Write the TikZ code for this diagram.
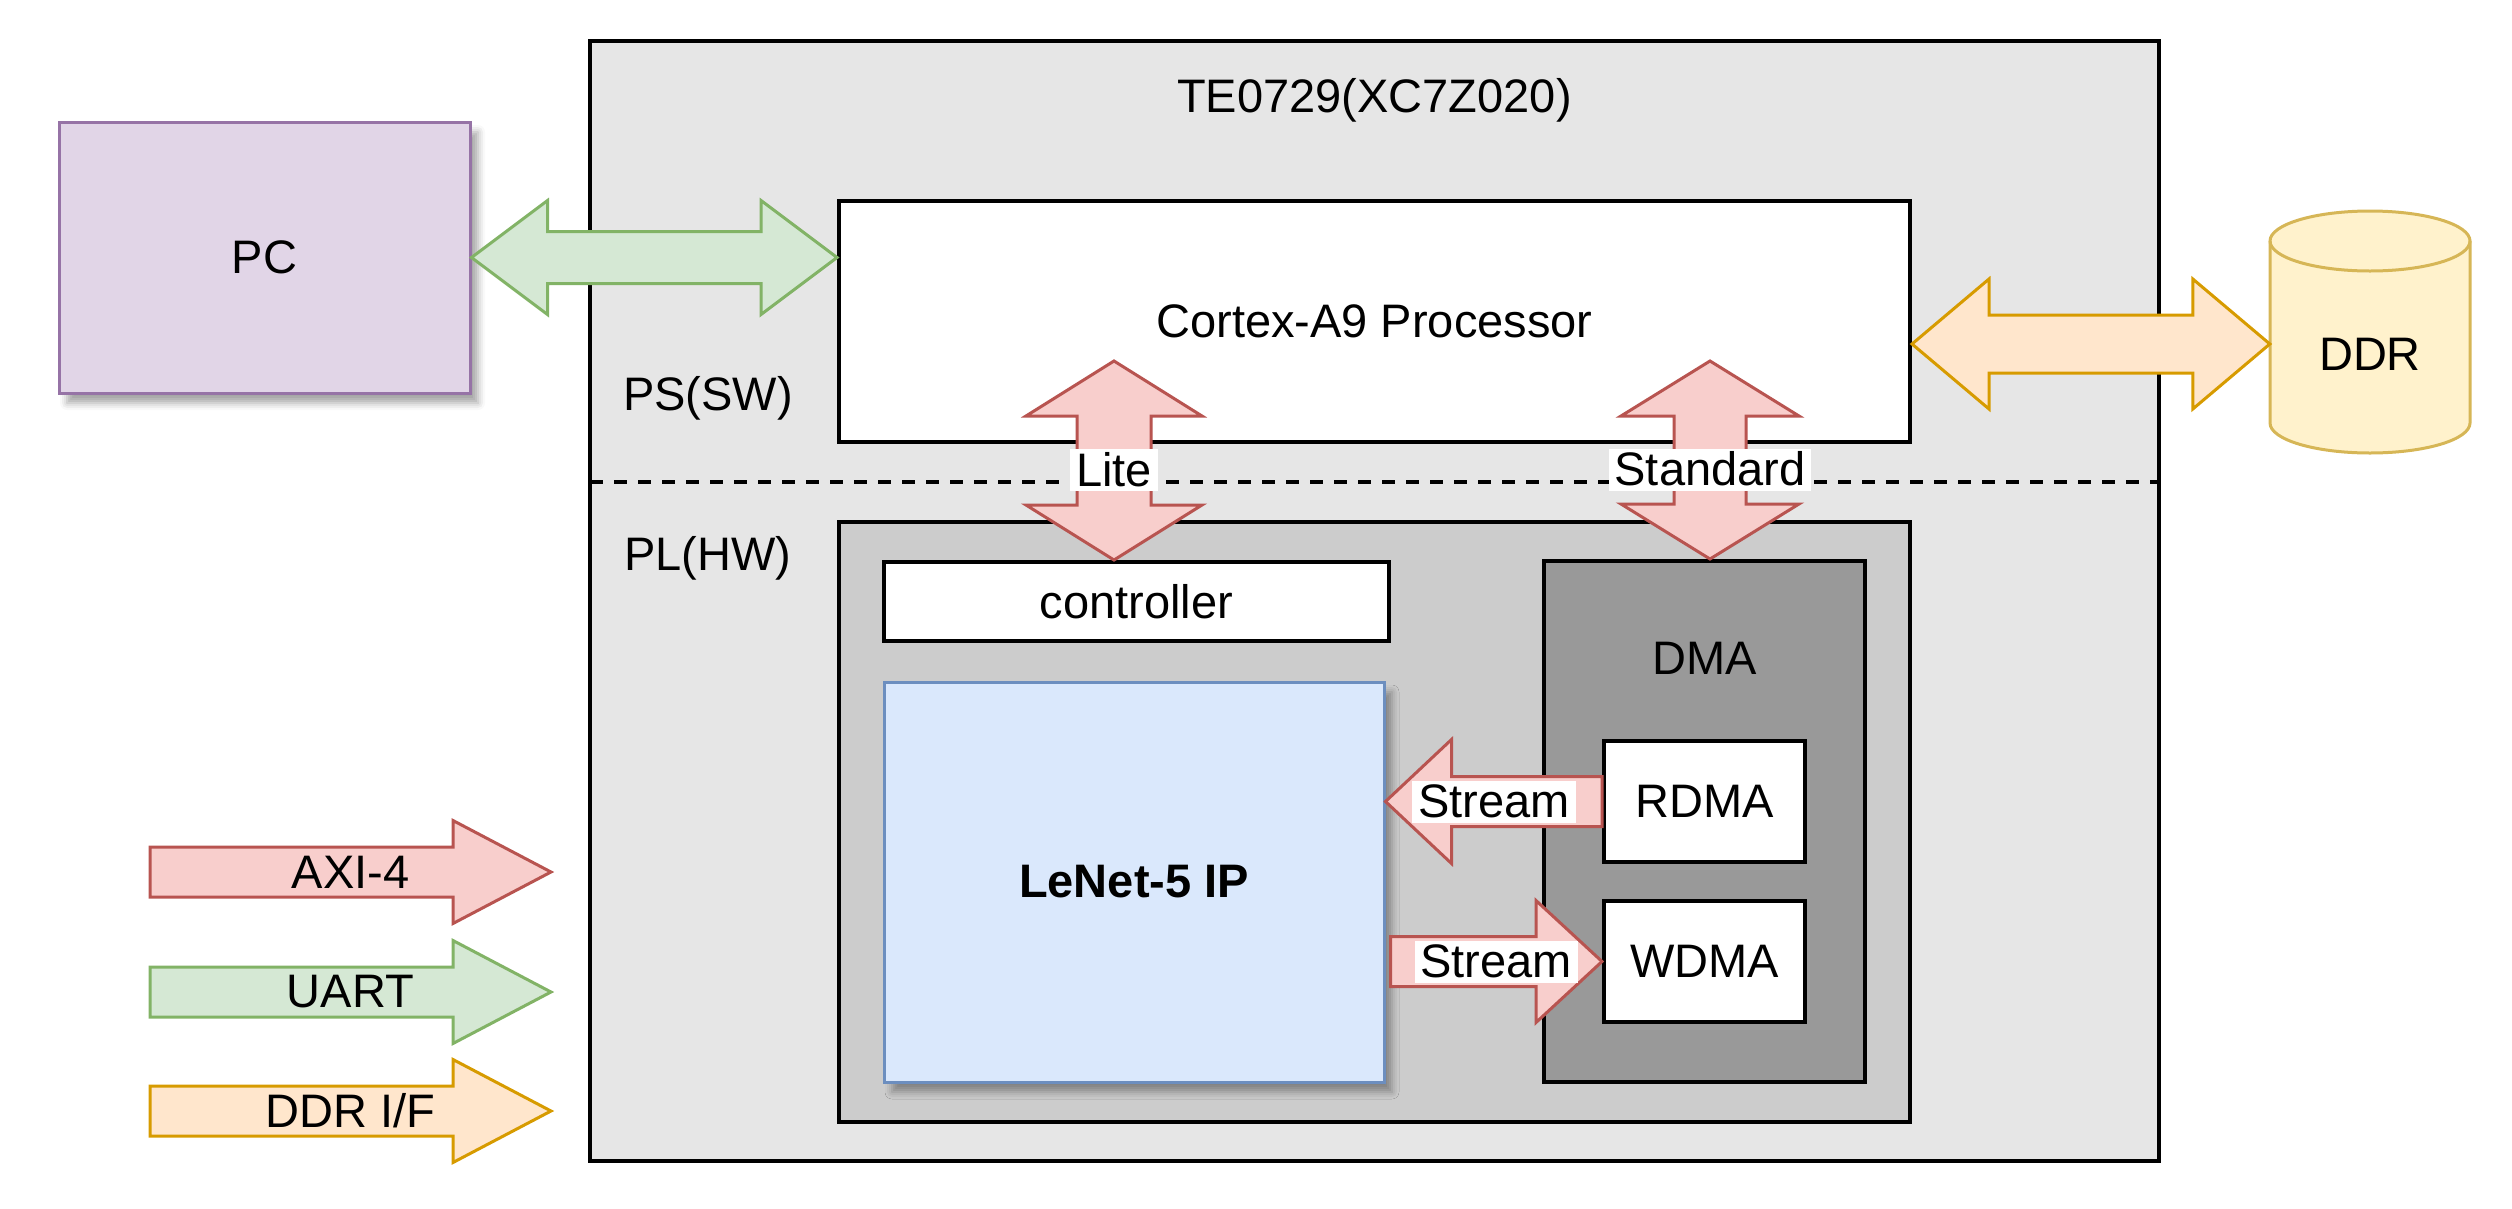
\documentclass[tikz,border=0pt]{standalone}
\usepackage{fontspec}
\setmainfont{Liberation Sans}
\usetikzlibrary{calc,shadows.blur}
\definecolor{outerfill}{HTML}{E6E6E6}
\definecolor{plfill}{HTML}{CCCCCC}
\definecolor{dmafill}{HTML}{999999}
\definecolor{pcfill}{HTML}{E1D5E7}
\definecolor{pcdraw}{HTML}{9673A6}
\definecolor{gfill}{HTML}{D5E8D4}
\definecolor{gdraw}{HTML}{82B366}
\definecolor{ofill}{HTML}{FFE6CC}
\definecolor{odraw}{HTML}{D79B00}
\definecolor{rfill}{HTML}{F8CECC}
\definecolor{rdraw}{HTML}{B85450}
\definecolor{yfill}{HTML}{FFF2CC}
\definecolor{ydraw}{HTML}{D6B656}
\definecolor{bfill}{HTML}{DAE8FC}
\definecolor{bdraw}{HTML}{6C8EBF}
% double horizontal arrow: style, left end, right end, head half height, shaft half, head length
\newcommand{\hdarrow}[6]{\path[#1] (#2) -- ($(#2)+(#6,#4)$) -- ($(#2)+(#6,#5)$) -- ($(#3)+(-#6,#5)$) -- ($(#3)+(-#6,#4)$) -- (#3) -- ($(#3)+(-#6,-#4)$) -- ($(#3)+(-#6,-#5)$) -- ($(#2)+(#6,-#5)$) -- ($(#2)+(#6,-#4)$) -- cycle;}
% double vertical arrow: style, top end, bottom end, head half width, shaft half, head length
\newcommand{\vdarrow}[6]{\path[#1] (#2) -- ($(#2)+(#4,#6)$) -- ($(#2)+(#5,#6)$) -- ($(#3)+(#5,-#6)$) -- ($(#3)+(#4,-#6)$) -- (#3) -- ($(#3)+(-#4,-#6)$) -- ($(#3)+(-#5,-#6)$) -- ($(#2)+(-#5,#6)$) -- ($(#2)+(-#4,#6)$) -- cycle;}
% single horizontal arrow: style, tail, tip, head half height, shaft half, dx from tip to head base
\newcommand{\sharrow}[6]{\path[#1] ($(#2)+(0,-#5)$) -- ($(#3)+(#6,-#5)$) -- ($(#3)+(#6,-#4)$) -- (#3) -- ($(#3)+(#6,#4)$) -- ($(#3)+(#6,#5)$) -- ($(#2)+(0,#5)$) -- cycle;}
\begin{document}
\begin{tikzpicture}[x=1pt,y=-1pt,
  txt/.style={font=\fontsize{47}{56}\selectfont, text=black, inner sep=0pt},
  blackbox/.style={draw=black, line width=4pt, inner sep=0pt, font=\fontsize{47}{56}\selectfont},
  shadowed/.style={blur shadow={shadow xshift=8pt, shadow yshift=-10pt, shadow blur radius=7pt, shadow opacity=35}},
  redarrow/.style={fill=rfill, draw=rdraw, line width=3pt, line join=miter},
  greenarrow/.style={fill=gfill, draw=gdraw, line width=3pt, line join=miter},
  orangearrow/.style={fill=ofill, draw=odraw, line width=3pt, line join=miter},
  tag/.style={fill=white, font=\fontsize{47}{56}\selectfont, inner xsep=6pt, inner ysep=3pt, text height=34pt, text depth=2pt},
  sepline/.style={draw=black, line width=4pt, dash pattern=on 13pt off 11pt}
]
\useasboundingbox (0,0) rectangle (2512,1208);
% outer board
\node[blackbox, fill=outerfill, minimum width=1569pt, minimum height=1120pt] (outer) at (1374.5,601) {};
\node[txt] (title) at (1374.5,100) {TE0729(XC7Z020)};
% PC
\node[draw=pcdraw, fill=pcfill, line width=3pt, minimum width=411pt, minimum height=271pt, shadowed, font=\fontsize{47}{56}\selectfont] (pc) at (264.5,257.5) {PC};
% Cortex
\node[blackbox, fill=white, minimum width=1071pt, minimum height=241pt] (cortex) at (1374.5,321.5) {Cortex-A9 Processor};
\node[txt] (ps) at (708,398) {PS(SW)};
% separator
\coordinate (sepl) at (590,482);
\coordinate (sepr) at (2159,482);
\draw[sepline] (sepl) -- (sepr);
\node[txt] (plt) at (708,558) {PL(HW)};
% PL
\node[blackbox, fill=plfill, minimum width=1071pt, minimum height=600pt] (pl) at (1374.5,822) {};
\node[blackbox, fill=white, minimum width=505pt, minimum height=79pt] (ctrl) at (1136.5,601.5) {controller};
\node[draw=bdraw, fill=bfill, line width=3pt, minimum width=500pt, minimum height=400pt, shadowed, font=\bfseries\fontsize{47}{56}\selectfont] (lenet) at (1134,882) {LeNet-5 IP};
\node[blackbox, fill=dmafill, minimum width=321pt, minimum height=521pt] (dma) at (1704.5,821.5) {};
\node[txt] (dmat) at (1704.5,658) {DMA};
\node[blackbox, fill=white, minimum width=201pt, minimum height=121pt] (rdma) at (1704.5,801.5) {RDMA};
\node[blackbox, fill=white, minimum width=201pt, minimum height=121pt] (wdma) at (1704.5,961.5) {WDMA};
% DDR cylinder
\path[fill=yfill, draw=ydraw, line width=3pt] (2270,241) -- (2270,423) arc[start angle=180, end angle=360, x radius=100pt, y radius=30pt] -- (2470,241) arc[start angle=0, end angle=180, x radius=100pt, y radius=30pt] -- cycle;
\draw[draw=ydraw, line width=3pt] (2270,241) arc[start angle=180, end angle=360, x radius=100pt, y radius=30pt];
\node[minimum width=200pt, minimum height=242pt, inner sep=0pt] (ddr) at (2370,332) {};
\node[txt] (ddrt) at (2370,354) {DDR};
% PC <-> Cortex
\coordinate (gA) at (pc.east);
\coordinate (gB) at (pc.east -| cortex.west);
\hdarrow{greenarrow}{gA}{gB}{57}{26}{76}
% Cortex <-> DDR
\coordinate (oB) at ($(ddr.west)+(0,12)$);
\coordinate (oA) at (oB -| cortex.east);
\hdarrow{orangearrow}{oA}{oB}{65}{29}{77}
% Lite
\coordinate (lA) at (1114,361);
\coordinate (lB) at (lA |- ctrl.north);
\vdarrow{redarrow}{lA}{lB}{88}{37}{55}
\node[tag] (lite) at ($(lA)!0.55!(lB)$) {Lite};
% Standard
\coordinate (sA) at (1710,361);
\coordinate (sB) at (sA |- dma.north);
\vdarrow{redarrow}{sA}{sB}{89}{36}{55}
\node[tag] (std) at ($(sA)!0.55!(sB)$) {Standard};
% Streams
\coordinate (s1T) at (rdma.west);
\coordinate (s1P) at (rdma.west -| lenet.east);
\sharrow{redarrow}{s1T}{s1P}{62}{25}{66}
\node[tag] (st1) at ($(s1T)!0.5!(s1P)$) {Stream};
\coordinate (s2T) at ($(wdma.west -| lenet.east)+(5,0)$);
\coordinate (s2P) at (wdma.west);
\sharrow{redarrow}{s2T}{s2P}{61}{25}{-66}
\node[tag] (st2) at ($(s2T)!0.5!(s2P)$) {Stream};
% legend
\coordinate (aT) at (150,872); \coordinate (aP) at (551,872);
\sharrow{redarrow}{aT}{aP}{51.5}{25}{-98}
\node[txt] (axi) at ($(aT)!0.5!(aP)$) {AXI-4};
\coordinate (uT) at (150,992); \coordinate (uP) at (551,992);
\sharrow{greenarrow}{uT}{uP}{51.5}{25}{-98}
\node[txt] (uart) at ($(uT)!0.5!(uP)$) {UART};
\coordinate (dT) at (150,1111); \coordinate (dP) at (551,1111);
\sharrow{orangearrow}{dT}{dP}{51.5}{25}{-98}
\node[txt] (ddrif) at ($(dT)!0.5!(dP)$) {DDR I/F};
\end{tikzpicture}
\end{document}
